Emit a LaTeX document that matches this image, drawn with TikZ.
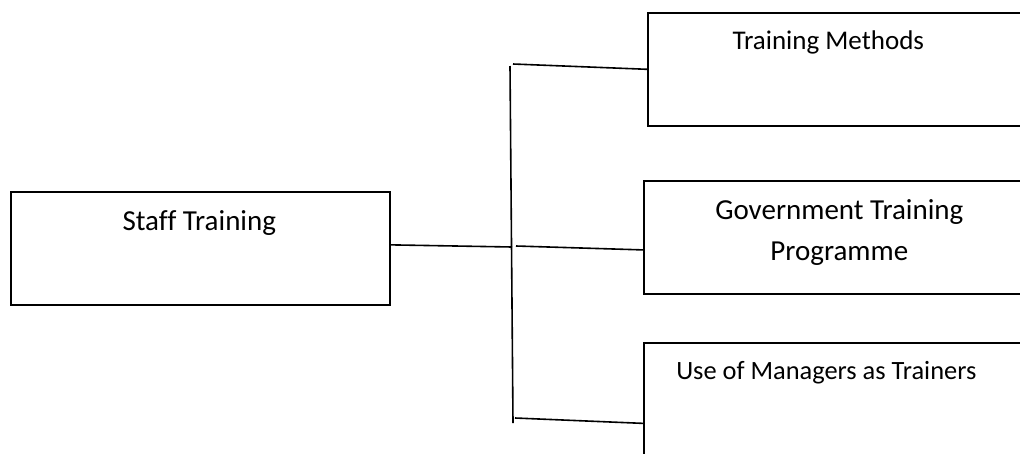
\documentclass[tikz,border=0pt]{standalone}
\usepackage{fontspec}
\setmainfont{Carlito}[Ligatures=CommonOff]
\usetikzlibrary{calc}
\tikzset{
  box/.style={draw, line width=1.6pt, minimum width=379pt, minimum height=113pt, inner sep=0pt, anchor=north west},
  lbl/.style={anchor=base, align=center, inner sep=0pt, font=\fontsize{#1}{41}\selectfont},
  lbl/.default=27,
  link/.style={line width=1.6pt}
}
\begin{document}
\begin{tikzpicture}[x=1pt,y=-1pt]
\useasboundingbox (0,0) rectangle (1020,453);
\clip (0,0) rectangle (1020,453);

\node [box, label={[lbl=29, xshift=-1pt, yshift=-39pt]north:Staff Training}] (staff) at (10,191) {};
\node [box, label={[lbl, xshift=-9pt, yshift=-37pt]north:Training Methods}] (methods) at (647,12) {};
\node [box, label={[lbl=29, xshift=6pt, yshift=-80pt]north:Government Training\\Programme}] (govt) at (643,180) {};
\node [box, label={[lbl=26.4, xshift=-7pt, yshift=-37pt]north:Use of Managers as Trainers}] (managers) at (643,342) {};

% spine
\coordinate (spine top) at (510,66);
\coordinate (spine bot) at (513,423);
\draw [link] (spine top) -- (spine bot);

\coordinate (j1) at (513,64);
\coordinate (j2) at (512,247);
\coordinate (j3) at (516,246);
\coordinate (j4) at (515,418);

\draw [link] (j1) -- ($(methods.north west) !.5! (methods.south west)$);
\draw [link] ($(staff.north east) !.47! (staff.south east)$) -- (j2);
\draw [link] (j3) -- ($(govt.north west) !.61! (govt.south west)$);
\draw [link] (j4) -- ($(managers.north west) !.71! (managers.south west)$);
\end{tikzpicture}
\end{document}
